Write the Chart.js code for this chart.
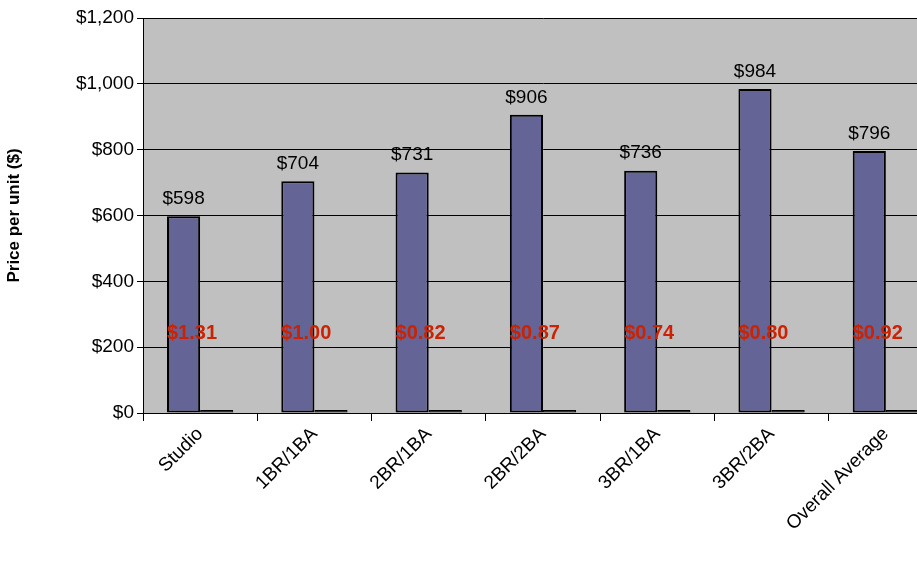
<!DOCTYPE html>
<html><head><script src="https://cdn.jsdelivr.net/npm/chart.js@4/dist/chart.umd.min.js"></script>
<style>html,body{margin:0;padding:0;overflow:hidden;background:#fff}</style></head>
<body><canvas id="c" width="945" height="565" style="width:945px;height:565px;display:block"></canvas>
<script>
const categories=["Studio","1BR/1BA","2BR/1BA","2BR/2BA","3BR/1BA","3BR/2BA","Overall Average"];
const pricePerUnit=[598,704,731,906,736,984,796];
const pricePerSqft=[1.31,1.00,0.82,0.87,0.74,0.80,0.92];
const yTicks=[0,200,400,600,800,1000,1200];
const bg={id:'bg',beforeDraw(ch){const a=ch.chartArea,c=ch.ctx;c.save();c.fillStyle='#c0c0c0';c.fillRect(a.left,a.top,a.right-a.left,a.bottom-a.top);c.restore();}};
const lbl={id:'lbl',afterDatasetsDraw(ch){const c=ch.ctx;c.save();
 const m0=ch.getDatasetMeta(0),y=ch.scales.y;
 c.font='19px Arial';c.fillStyle='#000';c.textAlign='center';c.textBaseline='bottom';
 m0.data.forEach((b,i)=>c.fillText('$'+pricePerUnit[i],b.x,b.y-8));
 c.font='bold 20px Arial';c.fillStyle='#cc2200';c.textAlign='left';c.textBaseline='middle';
 m0.data.forEach((b,i)=>c.fillText('$'+pricePerSqft[i].toFixed(2),b.x-b.width/2,y.getPixelForValue(243)));
 c.restore();}};
new Chart(document.getElementById('c'),{type:'bar',
data:{labels:categories,datasets:[
 {data:pricePerUnit,backgroundColor:'#646496',borderColor:'#000',borderWidth:2,borderSkipped:false},
 {data:pricePerSqft,backgroundColor:'#000',borderColor:'#000',borderWidth:1,borderSkipped:false,minBarLength:3}]},
options:{responsive:false,animation:false,devicePixelRatio:1,
 layout:{padding:{top:18,right:2}},
 datasets:{bar:{categoryPercentage:0.58,barPercentage:1}},
 plugins:{legend:{display:false},tooltip:{enabled:false}},
 scales:{
  x:{grid:{display:true,drawOnChartArea:false,color:'#000',tickLength:8,offset:true},border:{color:'#000',width:1},
   ticks:{color:'#000',font:{family:'Arial',size:19},maxRotation:45,minRotation:45,padding:2},
   afterFit(s){s.height=152;}},
  y:{min:0,max:1200,afterBuildTicks(s){s.ticks=yTicks.map(v=>({value:v}));},
   grid:{color:'#000',tickLength:6},border:{color:'#000'},
   ticks:{color:'#000',font:{family:'Arial',size:19},callback:v=>'$'+v.toLocaleString('en-US')},
   title:{display:true,text:'Price per unit ($)',color:'#000',padding:{top:4,bottom:4},font:{family:'Arial',size:17,weight:'bold'}},
   afterFit(s){s.width=143;}}}},
plugins:[bg,lbl]});
</script></body></html>
